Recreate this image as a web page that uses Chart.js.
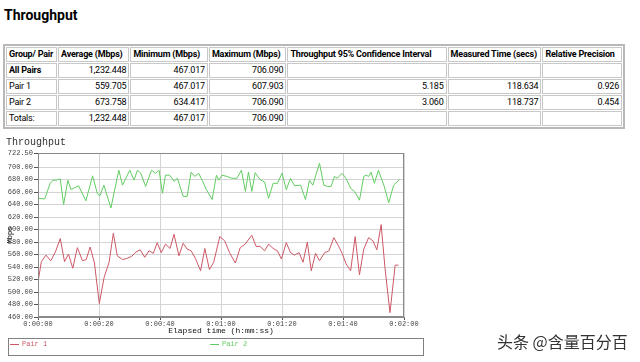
<!DOCTYPE html>
<html lang="zh">
<head>
<meta charset="utf-8">
<script src="https://cdn.jsdelivr.net/npm/chart.js@4/dist/chart.umd.min.js"></script>
<style>
    body {margin: 0; width: 640px; height: 362px; overflow: hidden; position: relative; background: #fff; font-family: Roboto, "Noto Sans", sans-serif; color: #000;}
    .page-title {position: absolute; left: 4px; top: 7px; margin: 0; font-size: 14px; font-weight: bold;}
    #statTable {position: absolute; left: 3px; top: 44px; border-collapse: separate; border-spacing: 1px; border: 2px solid #b8b8b8; font-size: 9px; letter-spacing: -0.2px; table-layout: fixed; width: 622px;}
    #statTable td {border: 1px solid #c8c8c8; height: 13px; padding: 0 2px; white-space: nowrap; overflow: hidden; line-height: 13px;}
    #statTable tr:first-child td, #statTable td.b {font-weight: bold;}
    #statTable td.n {text-align: right;}
    #chartBox {position: absolute; left: 0; top: 130px;}
    .legend {position: absolute; left: 8px; top: 338px; width: 414px; height: 16px; border: 1px solid #808080; font-family: "Liberation Mono", monospace; font-size: 7px;}
    .legend span {position: absolute; top: 1px;}
    .legend i {display: inline-block; width: 9px; height: 1px; vertical-align: middle; margin-right: 3px;}
    .mark {position: absolute; left: 497px; top: 329px; font-family: "Noto Sans CJK SC", sans-serif; font-size: 16px; color: #333;}
</style>
</head>
<body>
<h3 class="page-title">Throughput</h3>
<table id="statTable"></table>

<div id="chartBox"><canvas id="tpChart" width="430" height="206"></canvas></div>
<div class="legend">
    <span style="left:1px;color:#cc5866"><i style="background:#cc5866"></i>Pair 1</span>
    <span style="left:201px;color:#62cc62"><i style="background:#62cc62"></i>Pair 2</span>
</div>
<div class="mark">头条 @含量百分百</div>

<script type="text/javascript">
    // 表格
    var tableHead = ["Group/ Pair", "Average (Mbps)", "Minimum (Mbps)", "Maximum (Mbps)", "Throughput 95% Confidence Interval", "Measured Time (secs)", "Relative Precision"];
    var rowNames = ["All Pairs", "Pair 1", "Pair 2", "Totals:"];
    var avgCol = ["1,232.448", "559.705", "673.758", "1,232.448"];
    var minCol = ["467.017", "467.017", "634.417", "467.017"];
    var maxCol = ["706.090", "607.903", "706.090", "706.090"];
    var ciCol = ["", "5.185", "3.060", ""];
    var timeCol = ["", "118.634", "118.737", ""];
    var precCol = ["", "0.926", "0.454", ""];
    var colWidth = [50, 70, 76, 76, 156, 92, 78];

    // 图表 (秒, Mbps)
    var pair1Time = [0, 1.1, 2.6, 4.2, 5.7, 7.3, 8.7, 10, 11.4, 12.9, 14.6, 15.8, 17.1, 18.5, 20.1, 21.7, 23.3, 24.7, 26, 27.7, 29, 30.7, 32.1, 33.5, 35, 36.4, 37.8, 39.1, 40.4, 41.8, 43.3, 44.6, 46.2, 47.6, 48.9, 50.2, 51.6, 53.3, 54.7, 56.2, 57.6, 59.6, 61.2, 62.8, 64.7, 66.3, 67.9, 70.1, 71.5, 72.8, 74.3, 75.6, 77.1, 78.5, 79.8, 81.4, 82.8, 84.1, 85.6, 86.9, 88.3, 89.6, 91, 92.3, 94, 95.4, 97, 98.5, 99.7, 101, 102.5, 104, 105.4, 106.8, 108.4, 109.8, 111.1, 112.5, 113.8, 115.4, 117.1, 118.2];
    var pair1Mbps = [516, 548.6, 559, 550, 564, 585.5, 548.6, 560.7, 538, 571, 550, 552, 572, 546.5, 481.6, 523.8, 547.5, 594, 558, 552, 553.5, 557, 564, 567.6, 555.5, 566, 562, 579, 563, 576.6, 569.7, 592.4, 558, 578, 568.6, 566, 554, 534, 569.7, 536, 547.6, 588.7, 582, 563, 546.5, 571, 576.6, 590.8, 573, 573, 566, 576.6, 569.7, 566, 552.8, 579, 563, 559, 563, 547.6, 580, 534, 562, 550, 563, 566, 587, 574, 562, 545, 534, 588.7, 527.5, 568.6, 587, 582, 567.6, 607.9, 537, 467, 543, 543];
    var pair2Time = [0, 2.2, 4, 4.9, 6, 7.3, 8.4, 9.8, 10.8, 13.3, 15.7, 17.9, 19.5, 20.3, 21.6, 23.9, 26.5, 27.7, 30.1, 31.5, 32.6, 33.7, 35.3, 37.2, 38.6, 39.7, 40.8, 41.8, 43.2, 44.6, 45.7, 47.6, 48.9, 50.2, 51.4, 52.7, 53.8, 55.2, 57.1, 58.5, 59.3, 60.3, 62, 63.6, 65.2, 66.7, 68, 69, 70.1, 71.2, 72.8, 74.3, 75.6, 77.1, 78.5, 80, 81.4, 82.8, 84.1, 86.1, 87.7, 89, 90.1, 92.3, 93.7, 95, 96.1, 97.2, 98.1, 99.7, 101, 102.5, 103.8, 105.4, 106.8, 107.6, 108.4, 109.2, 110.3, 111.6, 113.4, 115, 116.6, 118.5];
    var pair2Mbps = [650, 649, 674, 679, 679, 681, 640, 679, 664, 670, 646, 686, 657, 654, 671, 634.4, 695, 671, 695, 679, 695, 690, 669, 695, 690, 695, 658, 687, 687, 677, 682, 653, 653, 692, 685, 690, 679, 664, 648, 687, 679, 687, 685, 682, 682, 695, 661, 692, 661, 691, 680, 676, 650, 674, 674, 690, 664, 682, 670, 671, 648, 679, 671, 706.1, 671, 669, 669, 685, 682, 690, 682, 666, 661, 647, 685, 687, 685, 692, 674, 695, 671, 643, 671, 680];
    var yTicks = [460, 480, 500, 520, 540, 560, 580, 600, 620, 640, 660, 680, 700, 722.5];
    var xTicks = [0, 20, 40, 60, 80, 100, 120];

    var html = '<colgroup>';
    for (var c = 0; c < colWidth.length; c++) {
        html += '<col style="width:' + colWidth[c] + 'px">';
    }
    html += '</colgroup><tr>';
    for (var h = 0; h < tableHead.length; h++) {
        html += '<td>' + tableHead[h] + '</td>';
    }
    html += '</tr>';
    for (var i = 0; i < rowNames.length; i++) {
        html += '<tr><td' + (i == 0 ? ' class="b"' : '') + '>' + rowNames[i] + '</td>'
            + '<td class="n">' + avgCol[i] + '</td><td class="n">' + minCol[i] + '</td>'
            + '<td class="n">' + maxCol[i] + '</td><td class="n">' + ciCol[i] + '</td>'
            + '<td class="n">' + timeCol[i] + '</td><td class="n">' + precCol[i] + '</td></tr>';
    }
    document.getElementById('statTable').innerHTML = html;

    function toPoints(t, v) {
        var pts = [];
        for (var i = 0; i < t.length; i++) {
            pts.push({x: t[i], y: v[i]});
        }
        return pts;
    }

    function hms(s) {
        var m = Math.floor(s / 60), sec = s % 60;
        return '0:' + (m < 10 ? '0' : '') + m + ':' + (sec < 10 ? '0' : '') + sec;
    }

    // 绘图区外框
    var frame = {
        id: 'frame',
        afterDraw: function (chart) {
            var a = chart.chartArea, ctx = chart.ctx;
            ctx.save();
            ctx.strokeStyle = '#8a8a8a';
            ctx.lineWidth = 1;
            ctx.strokeRect(Math.round(a.left) + 0.5, Math.round(a.top) + 0.5, Math.round(a.width) - 1, Math.round(a.height) - 1);
            ctx.restore();
        }
    };

    var mono = "'Liberation Mono', 'DejaVu Sans Mono', monospace";

    new Chart(document.getElementById('tpChart'), {
        type: 'line',
        data: {
            datasets: [{
                label: 'Pair 1',
                data: toPoints(pair1Time, pair1Mbps),
                borderColor: '#cc5866',
                borderWidth: 1,
                pointRadius: 0,
                tension: 0,
                fill: false
            }, {
                label: 'Pair 2',
                data: toPoints(pair2Time, pair2Mbps),
                borderColor: '#62cc62',
                borderWidth: 1,
                pointRadius: 0,
                tension: 0,
                fill: false
            }]
        },
        options: {
            responsive: false,
            animation: false,
            layout: {padding: {left: 6, right: 26, top: 0, bottom: 0}},
            plugins: {
                legend: {display: false},
                tooltip: {enabled: false},
                title: {
                    display: true,
                    text: 'Throughput',
                    align: 'start',
                    color: '#333',
                    font: {family: mono, size: 10, weight: 'normal'},
                    padding: {top: 6, bottom: 5}
                }
            },
            scales: {
                x: {
                    type: 'linear',
                    min: 0,
                    max: 120,
                    afterBuildTicks: function (s) {
                        s.ticks = xTicks.map(function (v) { return {value: v}; });
                    },
                    afterFit: function (s) { s.height = 19; },
                    ticks: {
                        color: '#444',
                        font: {family: mono, size: 7},
                        padding: 0,
                        maxRotation: 0,
                        callback: function (v) { return hms(v); }
                    },
                    grid: {color: '#d4d4d4', tickColor: '#555', tickLength: 3},
                    border: {color: '#8a8a8a'},
                    title: {
                        display: true,
                        text: 'Elapsed time (h:mm:ss)',
                        color: '#111',
                        font: {family: mono, size: 8},
                        padding: 0
                    }
                },
                y: {
                    min: 460,
                    max: 722.5,
                    afterBuildTicks: function (s) {
                        s.ticks = yTicks.map(function (v) { return {value: v}; });
                    },
                    afterFit: function (s) { s.width = 32; },
                    ticks: {
                        color: '#444',
                        font: {family: mono, size: 7},
                        padding: 1,
                        callback: function (v) { return v.toFixed(2); }
                    },
                    grid: {color: '#d4d4d4', tickColor: '#555', tickLength: 4},
                    border: {color: '#8a8a8a'},
                    title: {
                        display: true,
                        text: 'Mbps',
                        color: '#111',
                        font: {family: mono, size: 7},
                        padding: 0
                    }
                }
            }
        },
        plugins: [frame]
    });
</script>
</body>
</html>
